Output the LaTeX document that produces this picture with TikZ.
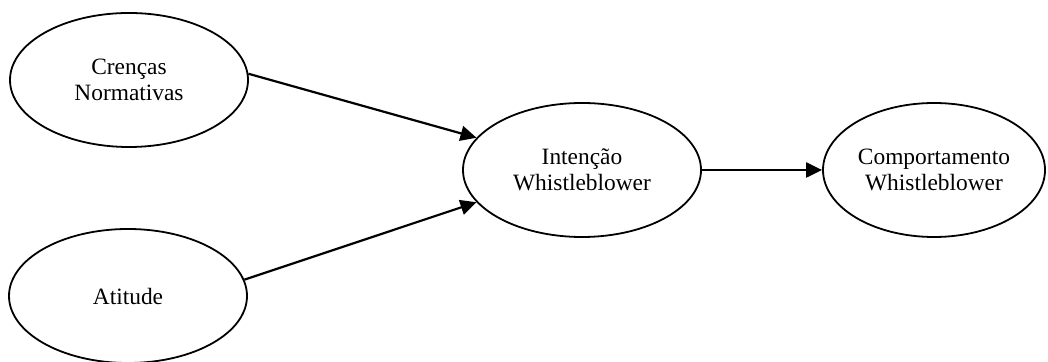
\documentclass[tikz,border=0pt]{standalone}
\usepackage{fontspec}
\setmainfont{Liberation Serif}
\usetikzlibrary{shapes.geometric,arrows.meta}

\begin{document}
\begin{tikzpicture}[x=0.5pt, y=-0.5pt, >={Triangle[length=8pt,width=7.5pt]},
    construct/.style={ellipse, draw, line width=0.9pt, minimum width=119pt, minimum height=67pt,
        align=center, inner sep=0pt, font=\fontsize{11.7}{12.9}\selectfont}]
        \useasboundingbox (0,0) rectangle (1048,362);

        % Define vertices
        \node[construct] (crencas) at (129,80) {Crenças\\Normativas};
        \node[construct] (atitude) at (128,296) {Atitude};
        \node[construct] (intencao) at (582,170) {Intenção\\Whistleblower};
        \node[construct, minimum width=111pt] (comport) at (934,170) {Comportamento\\Whistleblower};

        % Draw edges
        \draw[->, line width=1.1pt] (crencas.3) -- (intencao.163);
        \draw[->, line width=1.1pt] (atitude.8) -- (intencao.197);
        \draw[->, line width=1.1pt] (intencao) -- (comport);
\end{tikzpicture}
\end{document}
